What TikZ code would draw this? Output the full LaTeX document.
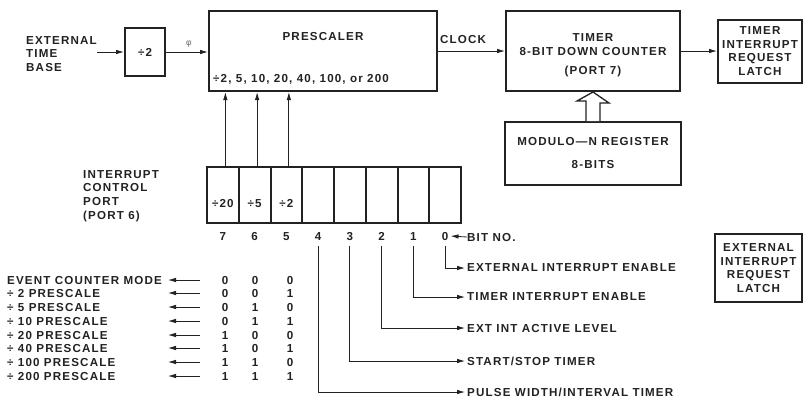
\documentclass[tikz,border=0pt]{standalone}
\usepackage{fontspec}
\setmainfont{Liberation Sans}[LetterSpace=10]
\usetikzlibrary{arrows.meta}
\definecolor{ink}{RGB}{34,34,34}
\newcommand\dgfont{\fontsize{11.6}{13.7}\selectfont\bfseries}
\begin{document}
\begin{tikzpicture}[x=1pt,y=-1pt,
  box/.style={draw=ink,line width=2pt,inner sep=0pt,text=ink,font=\dgfont,align=center},
  lbl/.style={text=ink,inner sep=0pt,font=\dgfont,align=center},
  dig/.style={lbl,text height=8.4pt,text depth=0pt},
  arr/.style={draw=ink,line width=0.8pt,-{Latex[length=8pt,width=4.5pt]}},
  hollow/.style={draw=ink,line width=1.3pt,fill=white,line join=miter}]
\useasboundingbox (0,0) rectangle (805,397);

% top row
\node[lbl,align=left,anchor=west] (etb) at (26,54) {EXTERNAL\\TIME\\BASE};
\coordinate (etbend) at (97,52);
\node[box,minimum width=40pt,minimum height=48pt] (dv) at (145,52) {\raisebox{-2pt}{÷2}};
\node[box,minimum width=228pt,minimum height=80pt] (pre) at (323,51) {};
\node[lbl] (pret) at (323,37) {PRESCALER};
\node[lbl,anchor=west] (pred) at (213,79) {÷2, 5, 10, 20, 40, 100, or 200};
\node[text=ink!70,inner sep=0pt,font=\fontsize{8.5}{9}\selectfont] (phi) at (189,44) {φ};
\node[box,minimum width=174pt,minimum height=80pt] (tmr) at (593,51) {};
\node[lbl] (tm1) at (593,38) {TIMER};
\node[lbl] (tm2) at (593,52) {8-BIT DOWN COUNTER};
\node[lbl] (tm3) at (593,71) {(PORT 7)};
\node[lbl] (clk) at (463,40) {CLOCK};
\node[box,minimum width=84pt,minimum height=63pt] (tirl) at (760,51) {TIMER\\INTERRUPT\\REQUEST\\LATCH};
\node[box,minimum width=176pt,minimum height=63pt] (mod) at (593,153.5) {};
\node[lbl] (mod1) at (593,142) {MODULO—N REGISTER};
\node[lbl] (mod2) at (593,165) {8-BITS};

\draw[arr] (etbend) -- (dv.west);
\draw[arr] (dv.east) -- (dv.east -| pre.west);
\draw[arr] (pre.east) -- (tmr.west);
\draw[arr] (tmr.east) -- (tirl.west);
\draw[hollow] ([xshift=-7pt]mod.north) -- ++(0,-20) -- ++(-9,0) -- (tmr.south)
  -- ++(16,11) -- ++(-9,0) -- ([xshift=7pt]mod.north);

% interrupt control port
\node[lbl,align=left,anchor=west] (icp) at (83,196) {INTERRUPT\\CONTROL\\PORT\\(PORT 6)};
\foreach \i in {0,...,7}{
  \node[box,minimum width=31.75pt,minimum height=56pt] (c\i) at ({461-15.875-31.75*\i},195) {};
  \node[dig] (b\i) at ([yshift=-41pt]c\i.center) {\i};
}
\node[dig] (d7) at ([yshift=-8pt]c7.center) {÷20};
\node[dig] (d6) at ([yshift=-8pt]c6.center) {÷5};
\node[dig] (d5) at ([yshift=-8pt]c5.center) {÷2};
\foreach \i in {7,6,5}{
  \draw[arr] ([xshift=2.5pt]c\i.north) -- ([xshift=2.5pt]c\i.north |- pre.south);
}
\node[dig,anchor=west] (bitno) at (467,237) {BIT NO.};
\draw[arr] (bitno.west) -- ([xshift=2pt]b0.east);

\node[lbl,anchor=west] (f0) at (467,268) {EXTERNAL INTERRUPT ENABLE};
\node[lbl,anchor=west] (f1) at (467,297) {TIMER INTERRUPT ENABLE};
\node[lbl,anchor=west] (f2) at (467,328) {EXT INT ACTIVE LEVEL};
\node[lbl,anchor=west] (f3) at (467,361) {START/STOP TIMER};
\node[lbl,anchor=west] (f4) at (467,392) {PULSE WIDTH/INTERVAL TIMER};
\foreach \i in {0,...,4}{
  \draw[arr] ([yshift=-6pt]b\i.south) |- ([xshift=-2pt]f\i.west);
}

\node[box,minimum width=87pt,minimum height=68pt] (eirl) at (758.5,268) {EXTERNAL\\INTERRUPT\\REQUEST\\LATCH};

% prescale table
\foreach \t/\y/\a/\b/\c [count=\k] in {EVENT COUNTER MODE/280/0/0/0,÷ 2 PRESCALE/293/0/0/1,÷ 5 PRESCALE/307/0/1/0,÷ 10 PRESCALE/321/0/1/1,÷ 20 PRESCALE/335/1/0/0,÷ 40 PRESCALE/348/1/0/1,÷ 100 PRESCALE/362/1/1/0,÷ 200 PRESCALE/376/1/1/1}{
  \node[dig,anchor=west] (m\k) at (7,\y) {\t};
  \node[dig] (pa\k) at (225,\y) {\a};
  \node[dig] (pb\k) at (255,\y) {\b};
  \node[dig] (pc\k) at (290,\y) {\c};
  \coordinate (s\k) at (200,\y);
  \coordinate (e\k) at (168,\y);
  \draw[arr] (s\k) -- (e\k);
}
\end{tikzpicture}
\end{document}
